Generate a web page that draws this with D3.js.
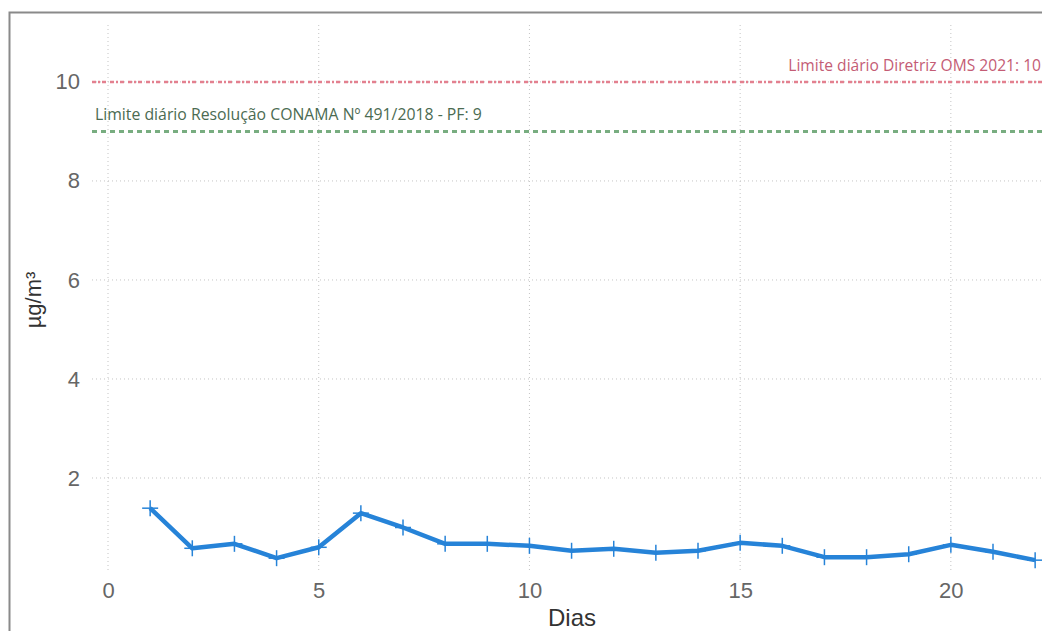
<!DOCTYPE html>
<html><head><meta charset="utf-8">
<script src="https://cdn.jsdelivr.net/npm/d3@7"></script>
<style>body{margin:0;background:#fff;overflow:hidden}</style>
</head><body>
<svg id="c" width="1042" height="631"></svg>
<script>
const days = [1,2,3,4,5,6,7,8,9,10,11,12,13,14,15,16,17,18,19,20,21,22];
const values = [1.39,0.58,0.67,0.38,0.60,1.29,1.00,0.67,0.67,0.63,0.53,0.57,0.49,0.53,0.69,0.63,0.40,0.40,0.46,0.65,0.51,0.34];
const xTicks = [0,5,10,15,20];
const yTicks = [2,4,6,8,10];
const limitOMS = 10, limitCONAMA = 9;
const labelOMS = "Limite diário Diretriz OMS 2021: 10";
const labelCONAMA = "Limite diário Resolução CONAMA Nº 491/2018 - PF: 9";
const xTitle = "Dias", yTitle = "µg/m³";

const svg = d3.select("#c");
const L = 92, R = 1052, T = 25, B = 577;
const x = d3.scaleLinear().domain([-0.38, 22.4]).range([L, R]);
const y = d3.scaleLinear().domain([0, 11.15]).range([B, T]);

// border
svg.append("rect").attr("x",9.5).attr("y",12.5).attr("width",1100).attr("height",700)
  .attr("fill","none").attr("stroke","#8a8a8a").attr("stroke-width",2);

// grid
const g = svg.append("g");
g.selectAll(".hg").data(yTicks).join("line")
  .attr("x1",L).attr("x2",R).attr("y1",d=>y(d)).attr("y2",d=>y(d))
  .attr("stroke","#c4c4c4").attr("stroke-width",1).attr("stroke-dasharray","1,3");
g.selectAll(".vg").data(xTicks).join("line")
  .attr("y1",T).attr("y2",B-6).attr("x1",d=>x(d)).attr("x2",d=>x(d))
  .attr("stroke","#c4c4c4").attr("stroke-width",1).attr("stroke-dasharray","1,3");

// axes labels via d3 axes
const yAx = svg.append("g").attr("transform",`translate(${L},0)`)
  .call(d3.axisLeft(y).tickValues(yTicks).tickSize(0).tickPadding(12));
yAx.select(".domain").remove();
yAx.selectAll("text").attr("font-family","Liberation Sans, Arial").attr("font-size",22).attr("fill","#666");

const xAx = svg.append("g").attr("transform",`translate(0,${B})`)
  .call(d3.axisBottom(x).tickValues(xTicks).tickSize(0).tickPadding(5));
xAx.select(".domain").remove();
xAx.selectAll("text").attr("font-family","Liberation Sans, Arial").attr("font-size",22).attr("fill","#666");

svg.append("text").attr("x",(L+R)/2).attr("y",626).attr("text-anchor","middle")
  .attr("font-family","Liberation Sans, Arial").attr("font-size",24).attr("fill","#333").text(xTitle);
svg.append("text").attr("transform","translate(41,300) rotate(-90)").attr("text-anchor","middle")
  .attr("font-family","Liberation Sans, Arial").attr("font-size",22).attr("fill","#333").text(yTitle);

// reference lines
svg.append("line").attr("x1",L).attr("x2",R).attr("y1",y(limitOMS)).attr("y2",y(limitOMS))
  .attr("stroke","#e3808f").attr("stroke-width",2.5).attr("stroke-dasharray","4,2,2,2,4,4");
svg.append("line").attr("x1",L).attr("x2",R).attr("y1",y(limitCONAMA)).attr("y2",y(limitCONAMA))
  .attr("stroke","#78ad80").attr("stroke-width",3).attr("stroke-dasharray","5,4");
svg.append("text").attr("x",1041).attr("y",y(limitOMS)-11).attr("text-anchor","end")
  .attr("font-family","Open Sans, Noto Sans").attr("font-size",15.6).attr("fill","#c45c75").text(labelOMS);
svg.append("text").attr("x",95).attr("y",y(limitCONAMA)-11).attr("text-anchor","start")
  .attr("font-family","Open Sans, Noto Sans").attr("font-size",15.8).attr("fill","#4b6b52").text(labelCONAMA);

// series
const line = d3.line().x((d,i)=>x(days[i])).y(d=>y(d));
svg.append("path").datum(values).attr("d",line).attr("fill","none")
  .attr("stroke","#2683d8").attr("stroke-width",4.5).attr("stroke-linejoin","round");
const mk = svg.append("g").selectAll("g").data(values).join("g")
  .attr("transform",(d,i)=>`translate(${x(days[i])},${y(d)})`);
mk.append("line").attr("x1",-8).attr("x2",8).attr("stroke","#2683d8").attr("stroke-width",1.5);
mk.append("line").attr("y1",-8).attr("y2",8).attr("stroke","#2683d8").attr("stroke-width",1.5);
</script>
</body></html>
